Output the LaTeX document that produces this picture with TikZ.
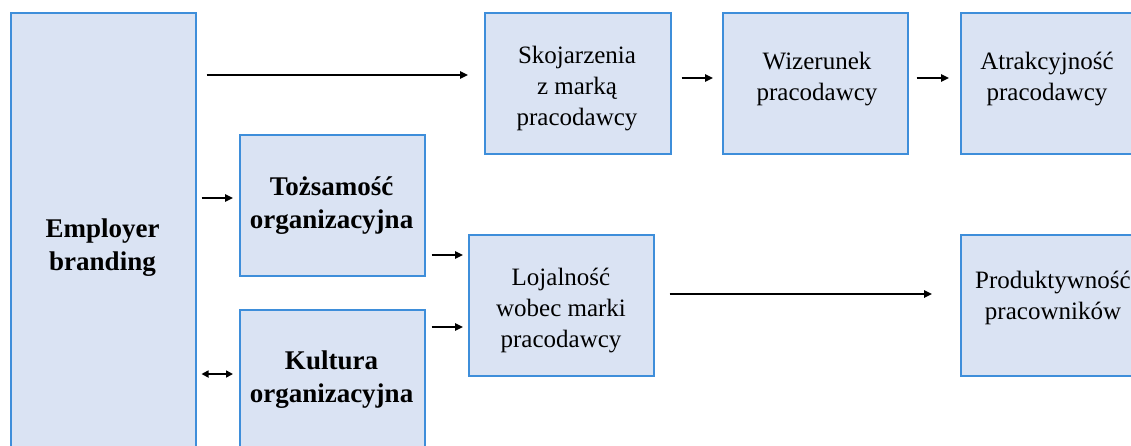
\documentclass[tikz,border=0pt]{standalone}
\usepackage{fontspec}
\setmainfont{Liberation Serif}
\usetikzlibrary{arrows.meta}
\definecolor{boxfill}{HTML}{DAE3F3}
\definecolor{boxline}{RGB}{62,142,218}
\begin{document}
\begin{tikzpicture}[x=1pt,y=-1pt,
  box/.style={draw=boxline, fill=boxfill, line width=1.5pt, rectangle,
    inner sep=0pt, anchor=north west, minimum width=#1, minimum height=141pt},
  box/.default=185pt,
  lbl/.style={align=center, font=\fontsize{25}{31}\selectfont, inner sep=0pt},
  blbl/.style={align=center, font=\fontsize{27}{33}\selectfont\bfseries, inner sep=0pt},
  arr/.style={line width=1.6pt, -{Triangle[length=8pt,width=7.5pt]}},
  darr/.style={line width=1.6pt, {Triangle[length=7pt,width=7pt]}-{Triangle[length=7pt,width=7pt]}}
]
\useasboundingbox (0,0) rectangle (1131,445);
\clip (0,0) rectangle (1131,445);

% boxes
\node[box, minimum height=466pt] (emp) at (10,12) {};
\node[box] (toz) at (239,134) {};
\node[box] (kul) at (239,309) {};
\node[box=186pt] (sko) at (484,12) {};
\node[box] (wiz) at (722,12) {};
\node[box] (atr) at (960,12) {};
\node[box] (loj) at (468,234) {};
\node[box] (pro) at (960,234) {};

% labels
\node[blbl] (empT) at (102.5,248) {Employer\\branding};
\node[blbl] (tozT) at (331.5,206) {Tożsamość\\organizacyjna};
\node[blbl] (kulT) at (331.5,380) {Kultura\\organizacyjna};
\node[lbl] (skoT) at (577,89) {Skojarzenia\\z marką\\pracodawcy};
\node[lbl] (wizT) at (817,79) {Wizerunek\\pracodawcy};
\node[lbl] (atrT) at (1047,79) {Atrakcyjność\\pracodawcy};
\node[lbl] (lojT) at (561,310) {Lojalność\\wobec marki\\pracodawcy};
\node[lbl] (proT) at (1053,298) {Produktywność\\pracowników};

% connectors
\draw[arr, shorten <=10pt, shorten >=16pt] (emp.east |- 0,75) -- (sko.west |- 0,75);
\draw[arr, shorten <=5pt, shorten >=6pt] (emp.east |- 0,198) -- (toz.west |- 0,198);
\draw[darr, shorten <=5pt, shorten >=6pt] (emp.east |- 0,374) -- (kul.west |- 0,374);
\draw[arr, shorten <=6pt, shorten >=5pt] (toz.east |- 0,255) -- (loj.west |- 0,255);
\draw[arr, shorten <=6pt, shorten >=5pt] (kul.east |- 0,327) -- (loj.west |- 0,327);
\draw[arr, shorten <=10pt, shorten >=9pt] (sko.east |- 0,78) -- (wiz.west |- 0,78);
\draw[arr, shorten <=8pt, shorten >=11pt] (wiz.east |- 0,78) -- (atr.west |- 0,78);
\draw[arr, shorten <=15pt, shorten >=28pt] (loj.east |- 0,294) -- (pro.west |- 0,294);
\end{tikzpicture}
\end{document}
